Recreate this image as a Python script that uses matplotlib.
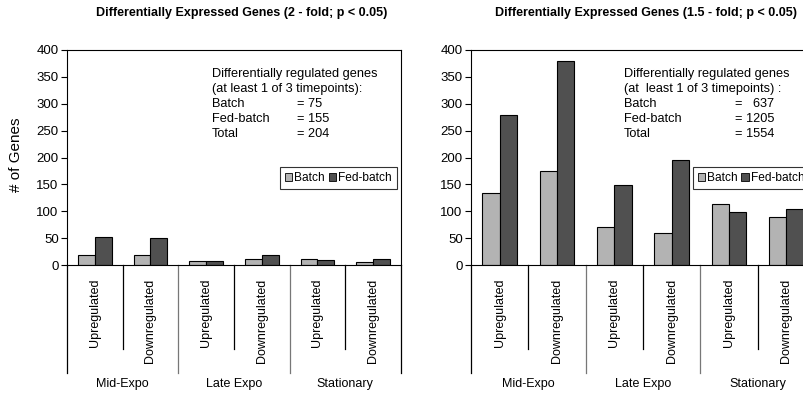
import matplotlib.pyplot as plt
from matplotlib.patches import Patch
import numpy as np

plt.rcParams['font.family'] = ['Liberation Sans', 'DejaVu Sans']

# data
phases = ['Mid-Expo', 'Late Expo', 'Stationary']
directions = ['Upregulated', 'Downregulated']
batch_2fold = [18, 18, 8, 11, 11, 6]
fed_2fold = [53, 50, 8, 18, 9, 12]
batch_15fold = [134, 174, 70, 59, 114, 89]
fed_15fold = [279, 379, 149, 195, 98, 104]
yticks = [0, 50, 100, 150, 200, 250, 300, 350, 400]

titles = ['Differentially Expressed Genes (2 - fold; p < 0.05)',
          'Differentially Expressed Genes (1.5 - fold; p < 0.05)']
summary_heads = [['Differentially regulated genes', '(at least 1 of 3 timepoints):'],
                 ['Differentially regulated genes', '(at  least 1 of 3 timepoints) :']]
summary_labels = ['Batch', 'Fed-batch', 'Total']
summary_values = [['= 75', '= 155', '= 204'], ['=   637', '= 1205', '= 1554']]

batch_color = '#b3b3b3'
fed_color = '#505050'

W, H = 804, 396
fig = plt.figure(figsize=(W / 100, H / 100), dpi=100)

# axes placement in pixels: (left, right, top, bottom)
boxes = [(67, 401, 50, 265), (471, 815, 50, 265)]
head_x = [0.434, 0.445]
val_x = [0.689, 0.767]
leg_x = [0.638, 0.645]
title_x = [242, 646]

data = [(batch_2fold, fed_2fold), (batch_15fold, fed_15fold)]

for k in range(2):
    l, r, t, b = boxes[k]
    ax = fig.add_axes([l / W, 1 - b / H, (r - l) / W, (b - t) / H])
    batch, fed = data[k]
    n = len(batch)
    x = np.arange(n) + 0.5
    ax.bar(x - 0.15, batch, width=0.3, color=batch_color, edgecolor='black', linewidth=0.8)
    ax.bar(x + 0.15, fed, width=0.3, color=fed_color, edgecolor='black', linewidth=0.8)
    ax.set_xlim(0, n)
    ax.set_ylim(0, 400)
    ax.set_yticks(yticks)
    ax.tick_params(axis='y', labelsize=9.5, length=4, width=0.8, pad=2)
    ax.set_xticks([])
    for s in ax.spines.values():
        s.set_linewidth(0.8)
        s.set_color('black')

    # category axis drawn below the plot
    tr = ax.get_xaxis_transform()
    ng = len(directions)
    for i in range(n + 1):
        if i % ng == 0:
            col = 'black' if i in (0, n) else '#777777'
            ax.plot([i, i], [0, -0.50], color=col, lw=0.9, transform=tr, clip_on=False)
        else:
            ax.plot([i, i], [0, -0.39], color='black', lw=0.9, transform=tr, clip_on=False)
    for i in range(n):
        ax.text(x[i], -0.065, directions[i % ng], rotation=90, ha='center', va='top',
                fontsize=9, transform=tr)
    for g, name in enumerate(phases):
        ax.text(g * ng + ng / 2, -0.555, name, ha='center', va='center',
                fontsize=9, transform=tr)

    # summary box text, one line at a time (15 px apart)
    line_y = lambda j: (b - (74 + 15 * j)) / (b - t)
    for j, s in enumerate(summary_heads[k]):
        ax.text(head_x[k], line_y(j), s, transform=ax.transAxes, ha='left', va='center',
                fontsize=9.2)
    for j, (s, v) in enumerate(zip(summary_labels, summary_values[k])):
        ax.text(head_x[k], line_y(j + 2), s, transform=ax.transAxes, ha='left', va='center',
                fontsize=9.2)
        ax.text(val_x[k], line_y(j + 2), v, transform=ax.transAxes, ha='left', va='center',
                fontsize=9.2)

    handles = [Patch(facecolor=batch_color, edgecolor='black', linewidth=0.6, label='Batch'),
               Patch(facecolor=fed_color, edgecolor='black', linewidth=0.6, label='Fed-batch')]
    leg = ax.legend(handles=handles, loc='upper left', bbox_to_anchor=(leg_x[k], 0.455),
                    ncol=2, fontsize=8.6, frameon=True, fancybox=False, borderpad=0.4,
                    handlelength=0.6, handleheight=0.6, handletextpad=0.2,
                    columnspacing=0.3, borderaxespad=0)
    leg.get_frame().set_edgecolor('black')
    leg.get_frame().set_linewidth(0.8)

    fig.text(title_x[k] / W, 1 - 13 / H, titles[k], ha='center',
             va='center', fontsize=9, fontweight='bold')

fig.text(16 / W, 1 - 155 / H, '# of Genes', rotation=90, ha='center', va='center', fontsize=11)

fig.savefig('out.png', dpi=100)
